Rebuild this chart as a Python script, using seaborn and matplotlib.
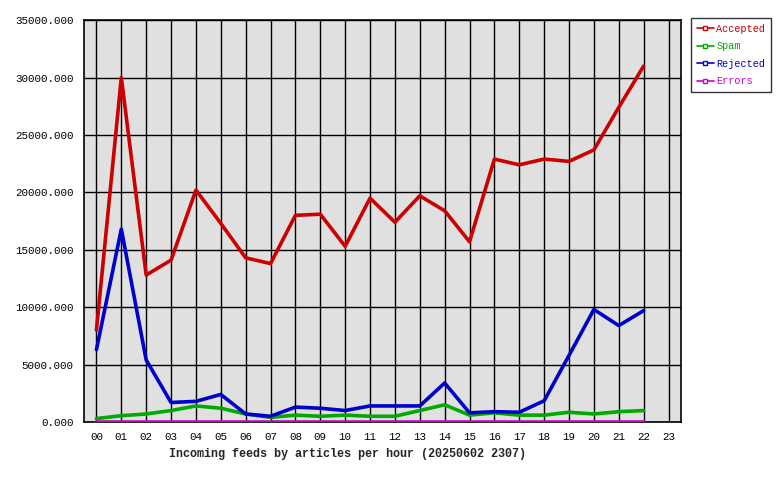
import pandas as pd
import seaborn as sns
import matplotlib.pyplot as plt
import matplotlib.ticker as ticker
from matplotlib.lines import Line2D

# Hourly values
hours = list(range(23))
accepted = [8000, 30000, 12800, 14100, 20200, 17300, 14300, 13800, 18000, 18100, 15300, 19500,
            17400, 19700, 18400, 15700, 22900, 22400, 22900, 22700, 23700, 27400, 31000]
spam = [300, 550, 700, 1000, 1400, 1200, 700, 400, 600, 500, 600, 500,
        500, 1000, 1500, 600, 800, 600, 600, 850, 700, 900, 1000]
rejected = [6300, 16800, 5400, 1700, 1800, 2400, 700, 500, 1300, 1200, 1000, 1400,
            1400, 1400, 3400, 800, 900, 850, 1850, 5800, 9800, 8400, 9700]
errors = [20] * 23

series_names = ['Accepted', 'Spam', 'Rejected', 'Errors']
colors = ['#cc0000', '#00aa00', '#0000cc', '#cc00cc']
hour_labels = [f'{h:02d}' for h in range(24)]

# Build long-form table for seaborn
df = pd.concat([
    pd.DataFrame({'hour': hours, 'value': vals, 'series': name})
    for name, vals in zip(series_names, [accepted, spam, rejected, errors])
])

sns.set_style('white')
plt.rcParams['font.family'] = ['Liberation Mono', 'DejaVu Sans Mono']

fig = plt.figure(figsize=(7.8, 4.8), dpi=100)
ax = fig.add_axes([0.1077, 0.1208, 0.7653, 0.8372])
ax.set_facecolor('#e0e0e0')

sns.lineplot(data=df, x='hour', y='value', hue='series', hue_order=series_names,
             palette=colors, linewidth=2.6, legend=False, ax=ax, zorder=3)

# Axes and grid
ax.set_xlim(-0.5, 23.5)
ax.set_ylim(0, 35000)
ax.set_xticks(range(24))
ax.set_xticklabels(hour_labels)
ax.set_yticks(range(0, 35001, 5000))
ax.yaxis.set_major_formatter(ticker.FuncFormatter(lambda v, pos: f'{v:.3f}'))
ax.grid(True, color='black', linewidth=1.0)
ax.set_axisbelow(True)
for spine in ax.spines.values():
    spine.set_color('black')
    spine.set_linewidth(1.2)
ax.tick_params(axis='both', direction='out', length=4, width=1, color='black',
               labelsize=7.8, labelcolor='black')
ax.tick_params(axis='x', pad=3)

ax.set_xlabel('Incoming feeds by articles per hour (20250602 2307)', fontsize=8.5,
              fontweight='bold', labelpad=4)
ax.xaxis.set_label_coords(0.442, -0.065)
ax.set_ylabel('')

# Legend at the top right, outside the plot
handles = [Line2D([0], [0], color=c, linewidth=1.2, marker='s', markersize=3,
                  markerfacecolor='white', markeredgecolor=c) for c in colors]
leg = fig.legend(handles, series_names, loc='upper left', bbox_to_anchor=(0.886, 0.9625),
                 borderaxespad=0, frameon=True, fancybox=False, fontsize=7.3,
                 handlelength=1.7, handletextpad=0.25, borderpad=0.55,
                 labelspacing=0.75, numpoints=1)
leg.get_frame().set_edgecolor('black')
leg.get_frame().set_linewidth(1.0)
for text, c in zip(leg.get_texts(), colors):
    text.set_color(c)

fig.savefig('out.png', dpi=100)
